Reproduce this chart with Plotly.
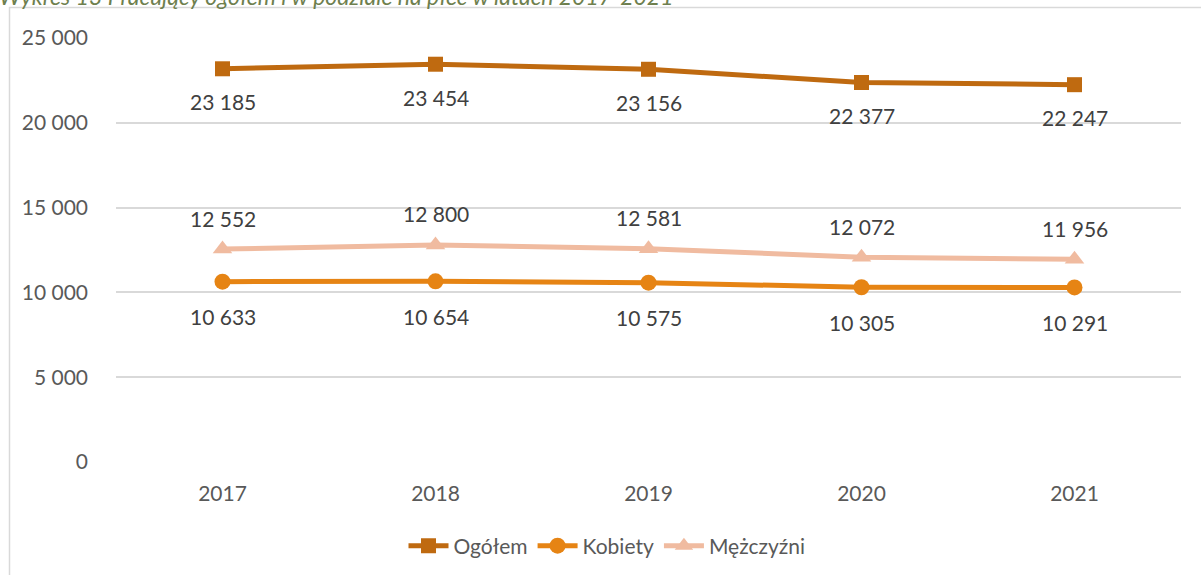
import plotly.graph_objects as go

years = ["2017", "2018", "2019", "2020", "2021"]
ogolem = [23185, 23454, 23156, 22377, 22247]
kobiety = [10633, 10654, 10575, 10305, 10291]
mezczyzni = [12552, 12800, 12581, 12072, 11956]
series_names = ["Ogółem", "Kobiety", "Mężczyźni"]
y_ticks = [0, 5000, 10000, 15000, 20000, 25000]
y_tick_labels = ["0", "5 000", "10 000", "15 000", "20 000", "25 000"]

W, H = 1201, 575
L, R, T, B = 116, 20, 38, 113
PW, PH = W - L - R, H - T - B

FONT = "Lato"
C_OG = "#BF6A10"
C_KO = "#E68414"
C_ME = "#F0BBA0"


def fmt(v):
    return f"{v:,}".replace(",", " ")


xs = list(range(len(years)))
fig = go.Figure()
fig.add_trace(go.Scatter(x=xs, y=ogolem, name=series_names[0], mode="lines+markers",
                         line=dict(color=C_OG, width=5),
                         marker=dict(symbol="square", size=15, color=C_OG)))
fig.add_trace(go.Scatter(x=xs, y=kobiety, name=series_names[1], mode="lines+markers",
                         line=dict(color=C_KO, width=5),
                         marker=dict(symbol="circle", size=16, color=C_KO)))
fig.add_trace(go.Scatter(x=xs, y=mezczyzni, name=series_names[2], mode="lines+markers",
                         line=dict(color=C_ME, width=5),
                         marker=dict(symbol="triangle-up", size=17, color=C_ME)))

annotations = []
for vals, shift in ((ogolem, -33), (kobiety, -35), (mezczyzni, 31)):
    for x, v in zip(xs, vals):
        annotations.append(dict(x=x, y=v, xref="x", yref="y", text=fmt(v), showarrow=False,
                                yshift=shift, font=dict(family=FONT, size=21, color="#404040")))


def py(pix):
    return (H - B - pix) / PH


def px(pix):
    return (pix - L) / PW


annotations.append(dict(
    x=px(-3), y=py(-4), xref="paper", yref="paper", xanchor="left", yanchor="middle",
    text="Wykres 13 Pracujący ogółem i w podziale na płeć w latach 2017-2021",
    showarrow=False, font=dict(family=FONT, size=23, color="#6E7F4E", style="italic")))

fig.update_layout(
    width=W, height=H,
    margin=dict(l=L, r=R, t=T, b=B, autoexpand=False),
    plot_bgcolor="white", paper_bgcolor="white",
    font=dict(family=FONT, size=21, color="#595959"),
    showlegend=True,
    legend=dict(orientation="h", x=px(607), xanchor="center", y=py(546), yanchor="middle",
                font=dict(family=FONT, size=21, color="#595959"), itemwidth=40,
                bgcolor="rgba(0,0,0,0)"),
    annotations=annotations,
    shapes=[dict(type="rect", xref="paper", yref="paper", x0=px(9.5), x1=1.2, y0=-0.6, y1=py(7.5),
                 line=dict(color="#D9D9D9", width=1.5), layer="below")],
)
fig.update_xaxes(range=[-0.5, len(years) - 0.5], tickmode="array", tickvals=xs, ticktext=years,
                 showgrid=False, zeroline=False, showline=False, ticks="",
                 ticklabelstandoff=17, tickfont=dict(family=FONT, size=21, color="#595959"))
fig.update_yaxes(range=[0, 25000], tickmode="array", tickvals=y_ticks, ticktext=y_tick_labels,
                 showgrid=True, gridcolor="#D9D9D9", gridwidth=1.5, zeroline=False, showline=False,
                 ticks="", ticklabelstandoff=27, tickfont=dict(family=FONT, size=21, color="#595959"))

fig.write_html("out.html", config={"displayModeBar": False},
               post_script="document.body.style.margin='0';document.body.style.overflow='hidden';")
